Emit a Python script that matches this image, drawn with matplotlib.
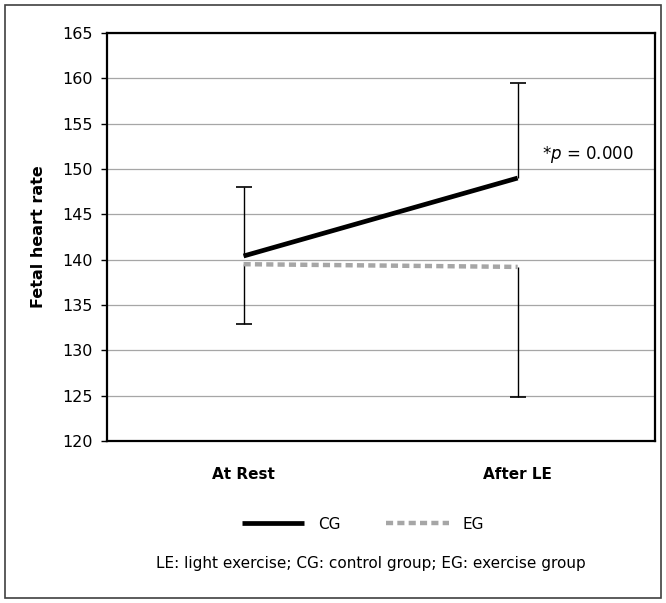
import matplotlib.pyplot as plt
from matplotlib.patches import Rectangle

# ── data ──
categories = ["At Rest", "After LE"]
cg_mean = [140.4, 149.0]
cg_err_up = [7.6, 10.5]
eg_mean = [139.5, 139.2]
eg_err_down = [6.6, 14.4]
yticks = list(range(120, 166, 5))

plt.rcParams["font.family"] = ["DejaVu Sans"]

fig = plt.figure(figsize=(6.66, 6.03), dpi=100)
ax = fig.add_axes([0.160, 0.2687, 0.8230, 0.6766])

x = [0.5, 1.5]
# error bars: CG upward only, EG downward only, caps at the far end
cg_top = [m + e for m, e in zip(cg_mean, cg_err_up)]
eg_bot = [m - e for m, e in zip(eg_mean, eg_err_down)]
ax.vlines(x, cg_mean, cg_top, color="black", lw=1.0, zorder=3)
ax.vlines(x, eg_mean, eg_bot, color="black", lw=1.0, zorder=3)
ax.plot(x, cg_top, ls="none", marker="_", ms=11, mew=1.2, color="black", zorder=3)
ax.plot(x, eg_bot, ls="none", marker="_", ms=11, mew=1.2, color="black", zorder=3)

l_cg, = ax.plot(x, cg_mean, color="black", lw=3.4, solid_capstyle="butt",
                label="CG", zorder=4)
l_eg, = ax.plot(x, eg_mean, color="#A6A6A6", lw=3.2, dashes=(1.6, 0.95),
                label="EG", zorder=4)

ax.set_xlim(0, 2)
ax.set_ylim(120, 165)
ax.set_yticks(yticks)
ax.set_xticks(x)
ax.set_xticklabels(categories, fontweight="bold", fontsize=11)
ax.tick_params(axis="x", length=0, pad=19)
ax.tick_params(axis="y", direction="out", length=4, width=1, labelsize=11.5, pad=6)
ax.yaxis.grid(True, color="#A6A6A6", lw=0.9)
ax.set_axisbelow(True)
for sp in ax.spines.values():
    sp.set_linewidth(1.6)
    sp.set_color("black")

ax.set_ylabel("Fetal heart rate", fontweight="bold", fontsize=11.5, labelpad=12)

ax.text(1.59, 151.6, r"*$\it{p}$ = 0.000", fontsize=12, ha="left", va="center")

fig.legend(handles=[l_cg, l_eg], loc="center", bbox_to_anchor=(0.545, 0.131),
           ncol=2, frameon=False, fontsize=11, handlelength=4.1,
           columnspacing=3.0, handletextpad=0.9)

fig.text(0.557, 0.066, "LE: light exercise; CG: control group; EG: exercise group",
         ha="center", va="center", fontsize=11)

fig.patches.append(Rectangle((0.008, 0.008), 0.984, 0.984, transform=fig.transFigure,
                             fill=False, edgecolor="#404040", lw=1.2))

fig.savefig("out.png", dpi=100)
